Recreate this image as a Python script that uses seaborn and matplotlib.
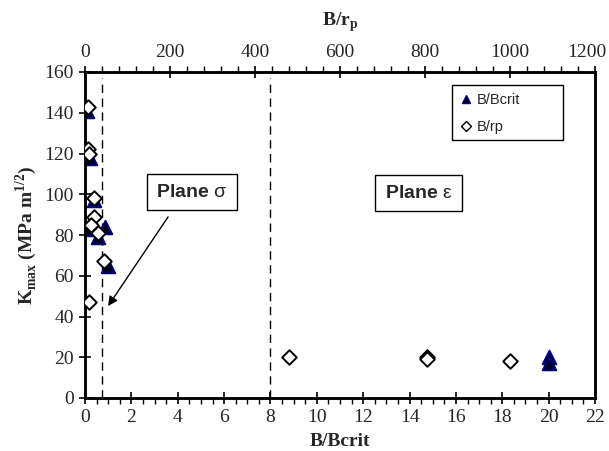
import matplotlib
matplotlib.use("Agg")
import matplotlib.pyplot as plt
from matplotlib.lines import Line2D
from matplotlib.patches import Rectangle
from matplotlib.transforms import ScaledTranslation
import seaborn as sns
import pandas as pd

# --- data -------------------------------------------------------------
bcrit_x = [0.1, 0.1, 0.2, 0.4, 0.05, 0.55, 0.85, 1.0, 20.0, 20.0]
bcrit_y = [141, 119, 118, 97, 83, 79, 84, 65, 20, 17]

rp_x = [6, 6, 10, 22, 22, 14, 30, 45, 10, 480, 805, 805, 1000]
rp_y = [143, 122, 120, 98, 89, 85, 81, 67, 47, 20, 20, 19, 18]

bottom_ticks = list(range(0, 23, 2))
top_ticks = list(range(0, 1201, 200))
y_ticks = list(range(0, 161, 20))
boundary_lines = [0.75, 8]

sns.set_style("ticks")
plt.rcParams["font.family"] = ["Liberation Serif", "DejaVu Serif"]
plt.rcParams["mathtext.fontset"] = "custom"
plt.rcParams["mathtext.bf"] = "Liberation Serif:bold"
plt.rcParams["mathtext.rm"] = "Liberation Serif:bold"
plt.rcParams["mathtext.sf"] = "Liberation Sans:bold"

fig = plt.figure(figsize=(6.09, 4.51), dpi=100)
ax = fig.add_axes([85 / 609, 1 - 398 / 451, 510 / 609, 326 / 451])

df_b = pd.DataFrame({"x": bcrit_x, "y": bcrit_y})
df_r = pd.DataFrame({"x": rp_x, "y": rp_y})

ax.vlines(boundary_lines, 0, 157, colors="black", linestyles=(0, (6, 4)), linewidth=1.0, zorder=1)

sns.scatterplot(data=df_b, x="x", y="y", ax=ax, marker="^", s=95,
                color="#000022", edgecolor="#000080", linewidth=1.4, zorder=3, legend=False)

ax.set_xlim(0, 22)
ax.set_ylim(0, 160)
ax.set_xticks(bottom_ticks)
ax.set_xticks([v / 2 for v in range(0, 45)], minor=True)
ax.set_yticks(y_ticks)
ax.set_xlabel("B/Bcrit", fontsize=14, fontweight="bold", labelpad=5)
ax.set_ylabel(r"K$_{\mathbf{max}}$ (MPa m$^{\mathbf{1/2}}$)", fontsize=14, fontweight="bold", labelpad=4)
ax.tick_params(axis="both", which="major", direction="inout", length=9, width=1.2, labelsize=14, color="black")
ax.tick_params(axis="x", which="minor", direction="out", length=4, width=1.0, color="black")
ax.tick_params(axis="y", which="minor", left=False)
for sp in ax.spines.values():
    sp.set_linewidth(1.8)
    sp.set_color("black")

ax2 = ax.twiny()
sns.scatterplot(data=df_r, x="x", y="y", ax=ax2, marker="D", s=55,
                color="white", edgecolor="black", linewidth=1.4, zorder=4, legend=False)
ax2.set_xlim(0, 1200)
ax2.set_ylim(0, 160)
ax2.set_xticks(top_ticks)
ax2.set_xticks(list(range(0, 1201, 40)), minor=True)
ax2.set_xlabel(r"B/r$_\mathbf{p}$", fontsize=14, fontweight="bold", labelpad=13)
ax2.tick_params(axis="x", which="major", direction="inout", length=9, width=1.2, labelsize=14, color="black")
ax2.tick_params(axis="x", which="minor", direction="out", length=4, width=1.0, color="black")
for sp in ax2.spines.values():
    sp.set_linewidth(1.8)
    sp.set_color("black")
fig.canvas.draw()
last = ax2.get_xticklabels()[-1]
last.set_transform(last.get_transform() + ScaledTranslation(-8 / 100, 0, fig.dpi_scale_trans))

# text boxes
box = dict(boxstyle="square,pad=0.5", facecolor="white", edgecolor="black", linewidth=1.0)
ax.text(4.62, 101, r"$\mathsf{Plane}$ σ", fontsize=14, family=["Liberation Sans", "DejaVu Sans"],
        ha="center", va="center", bbox=box, zorder=5)
ax.text(14.4, 100.5, r"$\mathsf{Plane}$ ε", fontsize=14, family=["Liberation Sans", "DejaVu Sans"],
        ha="center", va="center", bbox=box, zorder=5)
ax.annotate("", xy=(0.93, 44), xytext=(3.65, 90),
            arrowprops=dict(arrowstyle="-|>", color="black", lw=1.0, mutation_scale=14), zorder=5)

# legend with an Excel-like wide box
ax2.add_patch(Rectangle((0.72, 0.79), 0.217, 0.17, transform=ax2.transAxes, facecolor="white",
                        edgecolor="black", linewidth=1.0, zorder=9))
handles = [
    Line2D([], [], marker="^", linestyle="none", markersize=6, markerfacecolor="#000022",
           markeredgecolor="#000080", label="B/Bcrit"),
    Line2D([], [], marker="D", linestyle="none", markersize=5, markerfacecolor="white",
           markeredgecolor="black", label="B/rp"),
]
leg = ax2.legend(handles=handles, loc="upper left", bbox_to_anchor=(0.725, 0.95),
                 prop={"family": "Liberation Sans", "size": 10.5}, frameon=False,
                 handletextpad=0.2, handlelength=1.0, borderpad=0.3, labelspacing=0.9,
                 borderaxespad=0)
leg.set_zorder(10)

fig.savefig("out.png", dpi=100)
